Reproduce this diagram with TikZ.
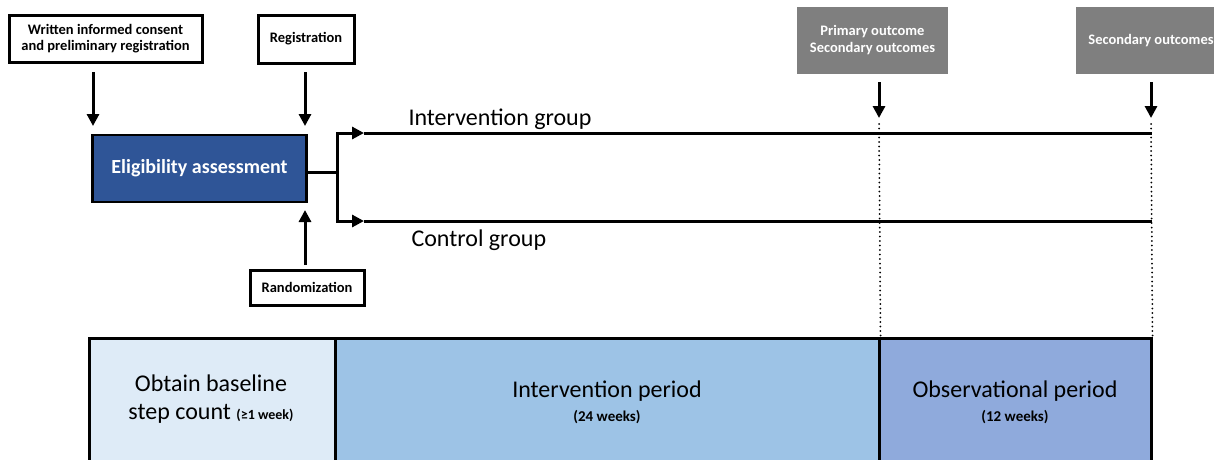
\documentclass[tikz,border=0pt]{standalone}
\usepackage{fontspec}
\setmainfont{Carlito}
\usetikzlibrary{arrows.meta}

\definecolor{eligblue}{HTML}{2F5597}
\definecolor{outgray}{HTML}{7F7F7F}
\definecolor{baseblue}{HTML}{DEEBF7}
\definecolor{intblue}{HTML}{9DC3E6}
\definecolor{obsblue}{HTML}{8FAADC}

\begin{document}
\begin{tikzpicture}[x=1pt,y=-1pt,
    infobox/.style={draw, line width=3pt, align=center, inner sep=0pt, font=\fontsize{14.5}{16}\selectfont\bfseries},
    outbox/.style={fill=outgray, text=white, align=center, inner sep=0pt, font=\fontsize{14.5}{17}\selectfont\bfseries},
    period/.style={draw, line width=3pt, align=center, inner sep=0pt},
    flow/.style={line width=3pt, -{Triangle[length=12pt,width=12pt]}},
    branch/.style={line width=3pt},
    timeline/.style={line width=2pt, line cap=round, dash pattern=on 0pt off 4.5pt}]
    \clip (0,0) rectangle (1214,459);
    % boxes on top
    \node [infobox, minimum width=193, minimum height=47] (consent) at (105.5,38.5) {Written informed consent\\and preliminary registration};
    \node [infobox, minimum width=96, minimum height=48] (regist) at (306,39) {Registration};
    \node [infobox, minimum width=114, minimum height=35] (random) at (307,287.5) {Randomization};
    \node [outbox, minimum width=151, minimum height=67] (primary) at (872.5,40.5) {Primary outcome\\Secondary outcomes};
    \node [outbox, minimum width=150, minimum height=67] (second) at (1151,40.5) {Secondary outcomes};
    \node [draw, line width=2.5pt, fill=eligblue, text=white, minimum width=214, minimum height=67, inner sep=0pt,
           font=\fontsize{20}{24}\selectfont\bfseries] (elig) at (199.5,168.5) {Eligibility assessment};
    % periods at the bottom
    \node [period, fill=baseblue, minimum width=246, minimum height=150] (base) at (212,413) {};
    \node [period, fill=intblue, minimum width=544, minimum height=150] (inter) at (607,413) {};
    \node [period, fill=obsblue, minimum width=272, minimum height=150] (obs) at (1015,413) {};
    \node [font=\fontsize{24}{28}\selectfont, align=center] at (211,399) {Obtain baseline\\step count {\fontsize{14}{16}\selectfont\bfseries(≥1 week)}};
    \node [font=\fontsize{24}{24}\selectfont, align=center] at (607,402) {Intervention period\\{\fontsize{15}{16}\selectfont\bfseries(24 weeks)}};
    \node [font=\fontsize{24}{24}\selectfont, align=center] at (1015,402) {Observational period\\{\fontsize{15}{16}\selectfont\bfseries(12 weeks)}};
    % arrows into the assessment
    \coordinate (c1) at (93,72);
    \coordinate (c2) at (93,126);
    \coordinate (r1) at (305,72);
    \coordinate (r2) at (305,126);
    \coordinate (m1) at (305,265);
    \coordinate (m2) at (305,210);
    \draw [flow] (c1) -- (c2);
    \draw [flow] (r1) -- (r2);
    \draw [flow] (m1) -- (m2);
    % the two groups
    \coordinate (split) at (337,172);
    \coordinate (igS) at (337,133);
    \coordinate (igM) at (364,133);
    \coordinate (igE) at (1152,133);
    \coordinate (cgS) at (337,221);
    \coordinate (cgM) at (364,221);
    \coordinate (cgE) at (1152,221);
    \draw [branch] (elig.east |- split) -- (split);
    \draw [flow] (split) -- (igS) -- (igM);
    \draw [branch] (igM) -- (igE);
    \draw [flow] (split) -- (cgS) -- (cgM);
    \draw [branch] (cgM) -- (cgE);
    \node [anchor=base west, font=\fontsize{24}{26}\selectfont] (ig) at (405,125) {Intervention group};
    \node [anchor=base west, font=\fontsize{24}{26}\selectfont] (cg) at (408,246) {Control group};
    % outcome time points
    \coordinate (p1) at (879,82);
    \coordinate (p2) at (879,118);
    \coordinate (s1) at (1151,82);
    \coordinate (s2) at (1151,118);
    \draw [flow] (p1) -- (p2);
    \draw [flow] (s1) -- (s2);
    \draw [timeline] (879,124) -- (inter.north east);
    \draw [timeline] (1151,124) -- (obs.north east);
\end{tikzpicture}
\end{document}
